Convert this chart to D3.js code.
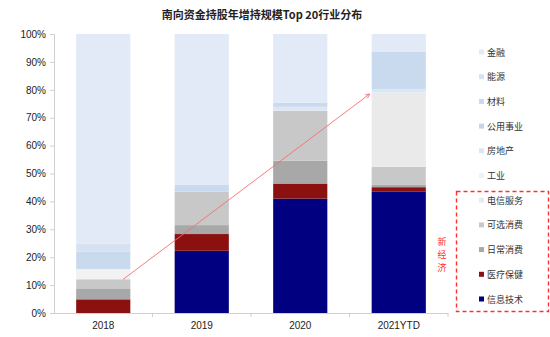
<!DOCTYPE html>
<html>
<head>
<meta charset="utf-8">
<script src="https://cdn.jsdelivr.net/npm/d3@7"></script>
<style>
  html, body { margin: 0; padding: 0; background: #fff; }
  svg { display: block; }
</style>
</head>
<body>
<svg id="chart" width="550" height="337"></svg>
<script>
// Years on the x axis
const years = ["2018", "2019", "2020", "2021YTD"];

// Sectors, stacked from the bottom up
const sectors = ["信息技术", "医疗保健", "日常消费", "可选消费", "电信服务", "工业", "房地产", "公用事业", "材料", "能源", "金融"];

// Share of each sector (%) per year
const infoTech   = [0,    22.3, 41.0, 43.6];
const health     = [4.9,  6.0,  5.4,  1.5];
const staples    = [3.7,  3.2,  8.2,  0.8];
const discretion = [3.5,  12.0, 17.9, 6.5];
const telecom    = [0,    0,    0,    26.6];
const industry   = [3.6,  0,    0,    0];
const realEstate = [0,    0,    1.4,  1.3];
const utilities  = [0,    0,    0,    0];
const materials  = [6.3,  2.4,  1.5,  13.4];
const energy     = [2.9,  0,    0,    0];
const finance    = [75.1, 54.1, 24.6, 6.3];

const seriesValues = [infoTech, health, staples, discretion, telecom, industry, realEstate, utilities, materials, energy, finance];

const yTicks = [0, 10, 20, 30, 40, 50, 60, 70, 80, 90, 100];

// Trend arrow from the top of 2018's consumer block to 2021's telecom block
const arrowFrom = { year: "2018", value: 12.1 };
const arrowTo   = { year: "2021YTD", value: 78.5 };

const colors = {
  "信息技术": "#000080",
  "医疗保健": "#8B1111",
  "日常消费": "#A8A8A8",
  "可选消费": "#C8C8C8",
  "电信服务": "#EAEAEA",
  "工业":     "#F2F2F2",
  "房地产":   "#DDE7F3",
  "公用事业": "#C3D6EF",
  "材料":     "#CADAEE",
  "能源":     "#D6E2F2",
  "金融":     "#E1EAF6"
};

const table = years.map((yr, i) => {
  const row = { year: yr };
  sectors.forEach((s, k) => { row[s] = seriesValues[k][i]; });
  return row;
});

const svg = d3.select("#chart");
const plotLeft = 54, plotRight = 448, plotTop = 34, plotBottom = 313;

const x = d3.scaleBand().domain(years).range([plotLeft, plotRight]).paddingInner(0.45).paddingOuter(0.225);
const y = d3.scaleLinear().domain([0, 100]).range([plotBottom, plotTop]);

// Title
svg.append("text")
  .attr("x", 262).attr("y", 19)
  .attr("text-anchor", "middle")
  .attr("font-family", "'Noto Sans CJK SC', sans-serif")
  .attr("font-weight", "bold")
  .attr("font-size", 11)
  .attr("fill", "#222")
  .text("南向资金持股年增持规模Top 20行业分布");

// Stacked bars
const stacked = d3.stack().keys(sectors)(table);
svg.append("g").selectAll("g")
  .data(stacked)
  .join("g")
  .attr("fill", d => colors[d.key])
  .selectAll("rect")
  .data(d => d)
  .join("rect")
  .attr("x", d => x(d.data.year))
  .attr("width", x.bandwidth())
  .attr("y", d => y(d[1]))
  .attr("height", d => Math.max(0, y(d[0]) - y(d[1])));

// Y axis
const yAxis = svg.append("g")
  .attr("transform", `translate(${plotLeft},0)`)
  .call(d3.axisLeft(y).tickValues(yTicks).tickFormat(d => d + "%").tickSize(4).tickPadding(4));
yAxis.select(".domain").attr("stroke", "#D0D0D0");
yAxis.selectAll(".tick line").attr("stroke", "#D0D0D0");
yAxis.selectAll("text")
  .attr("font-family", "'Liberation Sans', Arial, sans-serif")
  .attr("font-size", 10)
  .attr("fill", "#222");

// X axis with ticks at band boundaries
const xAxis = svg.append("g")
  .attr("transform", `translate(0,${plotBottom})`)
  .call(d3.axisBottom(x).tickSize(0).tickPadding(9));
xAxis.select(".domain").attr("stroke", "#D0D0D0");
xAxis.selectAll("text")
  .attr("font-family", "'Liberation Sans', Arial, sans-serif")
  .attr("font-size", 10)
  .attr("fill", "#222");
const step = x.step();
xAxis.selectAll(".sep")
  .data(years)
  .join("line")
  .attr("class", "sep")
  .attr("x1", (d, i) => plotLeft + step * (i + 1))
  .attr("x2", (d, i) => plotLeft + step * (i + 1))
  .attr("y1", 0).attr("y2", 4)
  .attr("stroke", "#D0D0D0");

// Trend arrow
const defs = svg.append("defs");
defs.append("marker")
  .attr("id", "arrowHead")
  .attr("viewBox", "0 0 10 10")
  .attr("refX", 9).attr("refY", 5)
  .attr("markerWidth", 6).attr("markerHeight", 6)
  .attr("orient", "auto")
  .append("path")
  .attr("d", "M1,1 L9,5 L1,9")
  .attr("fill", "none")
  .attr("stroke", "#F07070")
  .attr("stroke-width", 1.4);

svg.append("line")
  .attr("x1", x(arrowFrom.year) + x.bandwidth() * 0.87)
  .attr("y1", y(arrowFrom.value))
  .attr("x2", x(arrowTo.year) - 2)
  .attr("y2", y(arrowTo.value))
  .attr("stroke", "#F07070")
  .attr("stroke-width", 0.9)
  .attr("marker-end", "url(#arrowHead)");

// Legend, top entry = top of the stack
const legendItems = sectors.slice().reverse();
const legend = svg.append("g");
const legendRow = legend.selectAll("g")
  .data(legendItems)
  .join("g")
  .attr("transform", (d, i) => `translate(479,${52 + i * 24.7})`);
legendRow.append("rect")
  .attr("x", 0).attr("y", -2.5)
  .attr("width", 5).attr("height", 5)
  .attr("fill", d => colors[d]);
legendRow.append("text")
  .attr("x", 8).attr("y", 0)
  .attr("dominant-baseline", "central")
  .attr("font-family", "'Noto Sans CJK SC', sans-serif")
  .attr("font-size", 9)
  .attr("fill", "#333")
  .text(d => d);

// New-economy group box
svg.append("rect")
  .attr("x", 456.5).attr("y", 191.5)
  .attr("width", 92).attr("height", 120)
  .attr("fill", "none")
  .attr("stroke", "#FF3030")
  .attr("stroke-width", 1.4)
  .attr("stroke-dasharray", "4,3");

const label = "新经济".split("");
svg.append("g").selectAll("text")
  .data(label)
  .join("text")
  .attr("x", 442)
  .attr("y", (d, i) => 241 + i * 13.2)
  .attr("text-anchor", "middle")
  .attr("dominant-baseline", "central")
  .attr("font-family", "'Noto Sans CJK SC', sans-serif")
  .attr("font-size", 9)
  .attr("fill", "#FF3030")
  .text(d => d);
</script>
</body>
</html>
